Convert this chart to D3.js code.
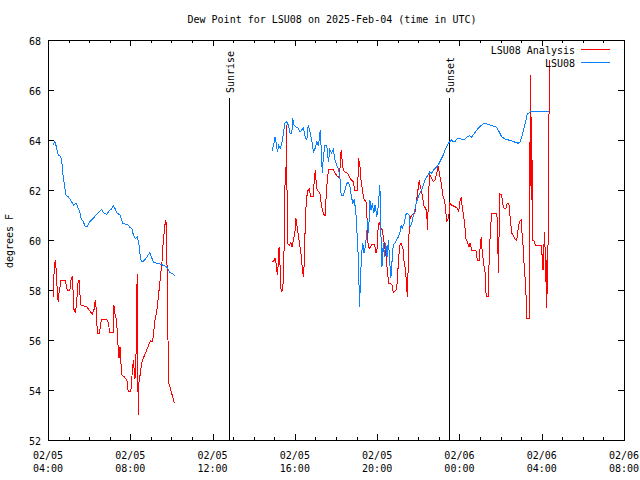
<!DOCTYPE html>
<html><head><meta charset="utf-8">
<script src="https://cdn.jsdelivr.net/npm/d3@7"></script>
<style>
body{margin:0;background:#fff;}
text{font-family:"DejaVu Sans Mono",monospace;font-size:10px;fill:#000;}
</style></head><body>
<svg id="c" width="640" height="480"></svg>
<script>
// Times: minutes after 2025-02-05 00:00 UTC; null value = data gap
const analysisTimes = [255,256,258,261,263,265,267,270,272,275,278,290,292,296,304,307,311,313,314,316,320,324,327,331,333,336,343,353,360,369,374,378,380,384,390,394,397,411,417,419,430,432,435,438,442,445,447,450,452,455,462,470,474,481,484,486,490,492,495,497,500,502,503,505,510,513,518,524,530,535,540,545,549,552,557,560,563,566,569,573,575,578,581,584,586,588,590,592,596,599,604,607,610,
 700,
 894,899,902,905,907,910,912,914,917,919,922,926,929,932,934,936,938,944,948,952,955,960,963,966,970,975,979,982,985,988,990,993,997,1002,1006,1014,1017,1020,1022,1025,1033,1038,1043,1048,1053,1058,1072,1077,1084,1090,1095,1098,1101,1109,1114,1121,1130,1135,1143,1146,1150,1153,1157,1162,1167,1170,1171,1174,1179,1184,1192,1197,1200,1203,1206,1210,1215,1218,1222,1226,1230,1234,1240,1244,1247,1252,1257,1260,1263,1266,1270,1273,1276,1279,1283,1286,1288,1290,1293,1296,1301,1306,1310,1315,1319,1323,1326,1330,1333,1337,1342,1345,1347,1350,1354,1359,1364,1369,1374,1377,1381,1384,1388,1391,1396,1399,1403,1409,1412,1417,1427,1434,1438,1442,1445,1448,1452,1456,1459,1463,1468,1471,1476,1488,1492,1498,1501,1504,1506,1510,1515,1518,1524,1527,1531,1534,1549,1552,1553,1555,1557,1558,1563,1566,1570,1576,1579,1584,1586,1590,1593,1597,1602,1607,1611,1615,1621,1623,1626,1629,1632,1635,1637,1643,1645,1647,1649,1651,1653,1658,1661,1680,1682,1684,1686,1688,1690,1692,1693,1695,1697,1699,1701,1703];
const analysisValues = [57.73,58.13,58.8,59.2,58.93,58.67,57.87,57.53,57.87,58.13,58.4,58.4,58.27,58.0,58.0,58.4,58.56,58.0,57.47,57.2,57.07,57.6,58.27,58.4,57.87,57.4,57.37,57.33,57.2,57.04,57.2,57.6,57.33,56.27,56.27,56.67,56.83,56.83,56.67,56.32,56.32,57.4,57.07,56.93,56.4,55.6,55.27,55.73,55.27,54.6,54.53,54.4,53.93,53.93,54.27,54.87,55.2,54.47,54.53,55.6,58.64,55.0,53.0,54.27,54.73,55.07,55.27,55.47,55.67,55.84,55.97,55.93,56.4,56.8,57.13,57.49,57.87,58.27,58.67,59.2,59.73,60.2,60.6,60.8,60.13,58.13,56.0,54.27,54.13,53.93,53.73,53.53,53.49,
 null,
 59.13,59.17,59.27,59.07,58.8,58.6,59.33,59.73,58.93,58.07,57.93,58.27,59.87,62.93,62.27,64.6,59.87,59.8,59.89,59.73,59.93,60.27,60.87,60.6,60.2,59.73,59.33,58.8,58.53,59.2,60.53,61.47,61.97,62.03,61.76,61.76,62.53,62.8,62.33,62.0,61.87,61.33,61.07,60.96,62.13,62.8,62.83,62.69,62.53,62.51,63.6,63.2,62.8,62.69,62.67,62.47,62.33,62.0,62.0,63.27,62.93,62.4,62.0,61.6,61.6,61.2,60.53,59.73,59.67,59.84,59.84,59.47,59.67,60.53,60.73,60.51,60.4,60.13,59.73,59.33,58.73,58.27,58.24,58.2,57.89,57.97,58.03,58.67,59.33,59.8,59.87,59.73,59.6,59.07,58.8,58.13,57.73,58.67,60.27,60.87,61.0,61.07,61.07,61.6,62.0,62.4,62.13,61.93,61.67,61.33,61.27,61.0,60.4,61.93,62.6,62.47,62.33,62.4,62.67,63.0,62.73,62.47,62.2,61.8,61.6,61.33,60.73,60.93,61.47,61.4,61.33,61.27,61.13,61.6,61.71,61.33,61.0,60.53,60.04,59.93,59.73,59.87,59.6,59.6,59.2,59.2,59.87,60.11,59.6,59.13,58.67,57.73,57.73,59.4,60.53,61.07,61.07,60.27,58.67,59.8,61.2,61.84,61.8,61.47,61.27,61.27,61.47,61.47,61.2,60.6,60.27,60.2,60.03,59.97,60.4,60.73,60.8,60.13,59.73,58.93,58.4,57.6,56.87,56.87,61.73,66.6,61.6,64.93,60.0,59.96,59.8,59.8,58.93,58.8,59.6,60.33,59.6,58.33,59.2,57.27,59.67,59.87,64.67,67.2];

const stationTimes = [255,260,263,270,277,280,283,287,292,299,306,314,322,328,333,336,343,348,355,362,372,382,392,397,401,411,421,426,430,435,442,450,458,465,471,479,485,489,495,500,505,507,512,518,526,532,537,542,547,557,567,576,586,596,604,610,
 700,
 894,899,902,905,909,913,917,922,926,931,936,941,946,951,954,957,963,970,975,980,985,990,995,999,1004,1009,1014,1019,1024,1028,1031,1034,1037,1040,1043,1048,1053,1058,1062,1067,1072,1077,1082,1088,1092,1095,1101,1106,1111,1116,1121,1125,1129,1133,1136,1140,1142,1145,1147,1149,1150,1152,1155,1158,1162,1165,1170,1172,1175,1179,1182,1186,1190,1194,1199,1203,1208,1211,1214,1218,1221,1225,1229,1233,1237,1240,1243,1247,1252,1257,1262,1267,1270,1273,1279,1283,1288,1293,1296,1301,1306,1310,1315,1320,1325,1330,1335,1340,1345,1349,1354,1359,1364,1369,1374,1378,1383,1388,1393,1398,1403,1408,1412,1417,1422,1427,1432,1437,1447,1453,1461,1469,1476,1480,1485,1495,1505,1512,1520,1529,1539,1549,1553,1558,1563,1573,1583,1592,1602,1612,1617,1622,1628,1634,1638,1646,1657,1675,1702];
const stationValues = [63.8,63.93,63.8,63.4,63.33,63.2,62.68,62.28,61.8,61.73,61.6,61.4,61.48,61.28,61.12,60.88,60.73,60.56,60.56,60.73,60.87,61.03,61.17,61.23,61.09,61.03,61.2,61.25,61.37,61.27,61.07,61.0,60.67,60.64,60.63,60.51,60.44,60.2,60.05,60.13,59.87,59.53,59.15,59.15,59.27,59.4,59.49,59.31,59.12,59.07,59.04,58.99,58.93,58.69,58.64,58.56,
 null,
 63.56,63.87,64.13,63.93,63.53,63.8,63.67,63.87,64.2,64.67,64.73,64.6,64.27,64.27,64.87,64.6,64.53,64.47,64.33,64.4,64.47,64.13,64.0,64.6,64.33,64.0,63.53,63.67,63.93,63.8,64.0,64.4,63.6,62.67,63.33,63.8,63.8,63.13,63.6,63.47,63.6,63.2,63.0,62.8,62.4,61.8,61.8,62.0,62.27,62.29,62.13,61.73,61.47,61.6,61.33,60.8,60.0,59.33,58.27,57.33,57.87,58.67,59.47,59.87,59.47,59.73,60.27,60.8,60.27,61.6,61.2,61.47,61.07,61.4,60.93,61.33,62.2,60.27,58.93,59.87,59.33,59.87,59.33,60.0,59.07,58.47,59.07,59.8,59.87,60.0,60.13,60.33,60.6,60.47,60.67,61.0,61.07,61.0,60.53,60.67,61.0,61.2,61.53,61.73,61.87,62.0,62.2,62.4,62.53,62.6,62.73,62.67,62.8,62.87,62.93,63.0,63.13,63.27,63.4,63.6,63.73,63.89,63.93,64.0,63.93,63.93,64.03,64.07,64.03,64.0,64.11,64.17,64.11,64.2,64.29,64.47,64.6,64.67,64.64,64.6,64.56,64.51,64.4,64.27,64.13,64.04,64.0,63.97,63.91,63.87,63.93,64.13,64.47,64.8,65.04,65.12,65.15,65.13,65.13];

const yTicks = [52,54,56,58,60,62,64,66,68];
const xTickMinutes = [240,480,720,960,1200,1440,1680,1920];
const xTickLabels = [["02/05","04:00"],["02/05","08:00"],["02/05","12:00"],["02/05","16:00"],["02/05","20:00"],["02/06","00:00"],["02/06","04:00"],["02/06","08:00"]];
const sunEvents = [{label:"Sunrise", t:768},{label:"Sunset", t:1411}];
const seriesNames = ["LSU08 Analysis","LSU08"];
const seriesColors = ["#ff0000","#0a80ff"];
const titleText = "Dew Point for LSU08 on 2025-Feb-04 (time in UTC)";
const yLabel = "degrees F";

const svg = d3.select("#c");
const L=48,R=624,T=40,B=440;
const x = d3.scaleLinear().domain([240,1920]).range([L,R]);
const y = d3.scaleLinear().domain([52,68]).range([B,T]);

svg.append("text").attr("x",332).attr("y",23).attr("text-anchor","middle").text(titleText);
svg.append("text").attr("transform","translate(13,241) rotate(-90)").attr("text-anchor","middle").text(yLabel);

// y ticks
yTicks.forEach(v=>{
  const yy=Math.round(y(v))+0.5;
  svg.append("line").attr("x1",L).attr("x2",L+6).attr("y1",yy).attr("y2",yy).attr("stroke","#000").attr("shape-rendering","crispEdges");
  svg.append("line").attr("x1",R-6).attr("x2",R).attr("y1",yy).attr("y2",yy).attr("stroke","#000").attr("shape-rendering","crispEdges");
  svg.append("text").attr("x",41).attr("y",yy+4).attr("text-anchor","end").text(v);
});
// x ticks: minor every hour, major every 4 hours
d3.range(240,1921,60).forEach(m=>{
  const xx=Math.round(x(m))+0.5;
  const len = (m%240===0)?6:3;
  svg.append("line").attr("x1",xx).attr("x2",xx).attr("y1",B).attr("y2",B-len).attr("stroke","#000").attr("shape-rendering","crispEdges");
  svg.append("line").attr("x1",xx).attr("x2",xx).attr("y1",T).attr("y2",T+len).attr("stroke","#000").attr("shape-rendering","crispEdges");
});
xTickMinutes.forEach((m,i)=>{
  const xx=x(m);
  svg.append("text").attr("x",xx).attr("y",459).attr("text-anchor","middle").text(xTickLabels[i][0]);
  svg.append("text").attr("x",xx).attr("y",472).attr("text-anchor","middle").text(xTickLabels[i][1]);
});

// sun lines
sunEvents.forEach(s=>{
  const xx=Math.round(x(s.t))+0.5;
  svg.append("line").attr("x1",xx).attr("x2",xx).attr("y1",98).attr("y2",B).attr("stroke","#000").attr("shape-rendering","crispEdges");
  svg.append("text").attr("transform",`translate(${xx+4},93) rotate(-90)`).attr("text-anchor","start").text(s.label);
});

// data
const line = d3.line().defined(d=>d[1]!==null).x(d=>x(d[0])).y(d=>y(d[1]));
const a = analysisTimes.map((t,i)=>[t,analysisValues[i]]);
const s = stationTimes.map((t,i)=>[t,stationValues[i]]);
svg.append("path").attr("d",line(a)).attr("fill","none").attr("stroke",seriesColors[0]).attr("stroke-width",1).attr("shape-rendering","crispEdges");
svg.append("path").attr("d",line(s)).attr("fill","none").attr("stroke",seriesColors[1]).attr("stroke-width",1).attr("shape-rendering","crispEdges");

// legend
seriesNames.forEach((n,i)=>{
  const yy=49.5+i*13;
  svg.append("text").attr("x",575).attr("y",yy+4).attr("text-anchor","end").text(n);
  svg.append("line").attr("x1",581).attr("x2",610).attr("y1",yy).attr("y2",yy).attr("stroke",seriesColors[i]).attr("shape-rendering","crispEdges");
});

// border
svg.append("rect").attr("x",L+0.5).attr("y",T+0.5).attr("width",R-L).attr("height",B-T).attr("fill","none").attr("stroke","#000").attr("shape-rendering","crispEdges");
</script></body></html>
